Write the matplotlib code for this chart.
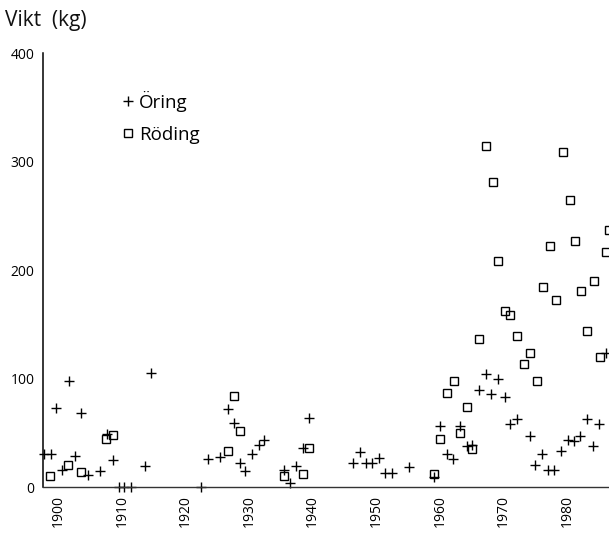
import matplotlib
matplotlib.use("Agg")
import matplotlib.pyplot as plt

plt.rcParams["font.family"] = ["Open Sans", "DejaVu Sans"]

# Öring (plus markers): year, weight in kg
oring_year = [1897.8, 1898.8, 1899.7, 1900.6, 1901.7, 1902.7, 1903.6, 1904.6,
              1906.5, 1907.7, 1908.6, 1909.6, 1910.4, 1911.4, 1913.6, 1914.6,
              1922.5, 1923.5, 1925.5, 1926.7, 1927.6, 1928.5, 1929.4, 1930.5,
              1931.6, 1932.4, 1935.5, 1936.5, 1937.4, 1938.5, 1939.5,
              1946.4, 1947.5, 1948.4, 1949.4, 1950.4, 1951.3, 1952.4, 1955.2,
              1959.1, 1960.1, 1961.1, 1962.0, 1963.2, 1964.2, 1965.1, 1966.2,
              1967.3, 1968.1, 1969.1, 1970.2, 1971.1, 1972.1, 1974.1, 1975.0,
              1976.1, 1977.0, 1977.9, 1979.1, 1980.1, 1981.1, 1982.1, 1983.1,
              1984.1, 1985.1, 1986.2]
oring_kg = [30, 30, 73, 16, 98, 29, 68, 11,
            15, 49, 25, 0, 0, 0, 19, 105,
            0, 26, 28, 72, 59, 22, 15, 30,
            39, 43, 16, 4, 19, 36, 64,
            22, 32, 22, 22, 27, 13, 13, 18,
            9, 56, 30, 26, 56, 38, 39, 89,
            104, 86, 100, 83, 58, 63, 47, 20,
            30, 16, 16, 33, 43, 42, 47, 63,
            38, 58, 124]

# Röding (square markers)
roding_year = [1898.7, 1901.6, 1903.6, 1907.5, 1908.6,
               1926.7, 1927.6, 1928.5, 1935.5, 1938.5, 1939.5,
               1959.1, 1960.1, 1961.2, 1962.2, 1963.2, 1964.2, 1965.0, 1966.2,
               1967.3, 1968.3, 1969.2, 1970.2, 1971.1, 1972.1, 1973.2, 1974.1,
               1975.2, 1976.3, 1977.4, 1978.2, 1979.4, 1980.4, 1981.3, 1982.2,
               1983.2, 1984.2, 1985.2, 1986.2, 1986.6]
roding_kg = [10, 20, 14, 44, 48,
             33, 84, 52, 10, 12, 36,
             12, 44, 87, 98, 50, 74, 35, 136,
             314, 281, 208, 162, 159, 139, 113, 124,
             98, 184, 222, 172, 309, 265, 227, 181,
             144, 190, 120, 217, 237]

year_ticks = [1900, 1910, 1920, 1930, 1940, 1950, 1960, 1970, 1980]
kg_ticks = [0, 100, 200, 300, 400]

fig = plt.figure(figsize=(6.09, 5.41), dpi=100)
ax = fig.add_axes([0.0706, 0.0998, 0.9294, 0.802])

ax.plot(oring_year, oring_kg, ls="none", marker="+", ms=7, mew=1.0,
        color="black", clip_on=False, label="Öring")
ax.plot(roding_year, roding_kg, ls="none", marker="s", ms=5.5, mew=1.0,
        mfc="none", mec="black", label="Röding")

ax.set_xlim(1897.6, 1986.6)
ax.set_ylim(0, 400)
ax.set_xticks(year_ticks)
ax.set_xticklabels([str(y) for y in year_ticks], rotation=90, fontsize=10)
ax.set_yticks(kg_ticks)
ax.set_yticklabels([str(k) for k in kg_ticks], fontsize=10)
ax.tick_params(length=0, pad=6)

for s in ("top", "right"):
    ax.spines[s].set_visible(False)
ax.spines["left"].set_linewidth(1.1)
ax.spines["bottom"].set_linewidth(1.0)
ax.spines["bottom"].set_color("#333333")

fig.text(0.008, 0.952, "Vikt  (kg)", fontsize=15, color="#111111")

ax.legend(loc="upper left", bbox_to_anchor=(0.125, 0.935), frameon=False,
          fontsize=13.5, handlelength=0.5, handletextpad=0.35, labelspacing=0.75,
          borderpad=0)

fig.savefig("out.png", dpi=100, facecolor="white")
